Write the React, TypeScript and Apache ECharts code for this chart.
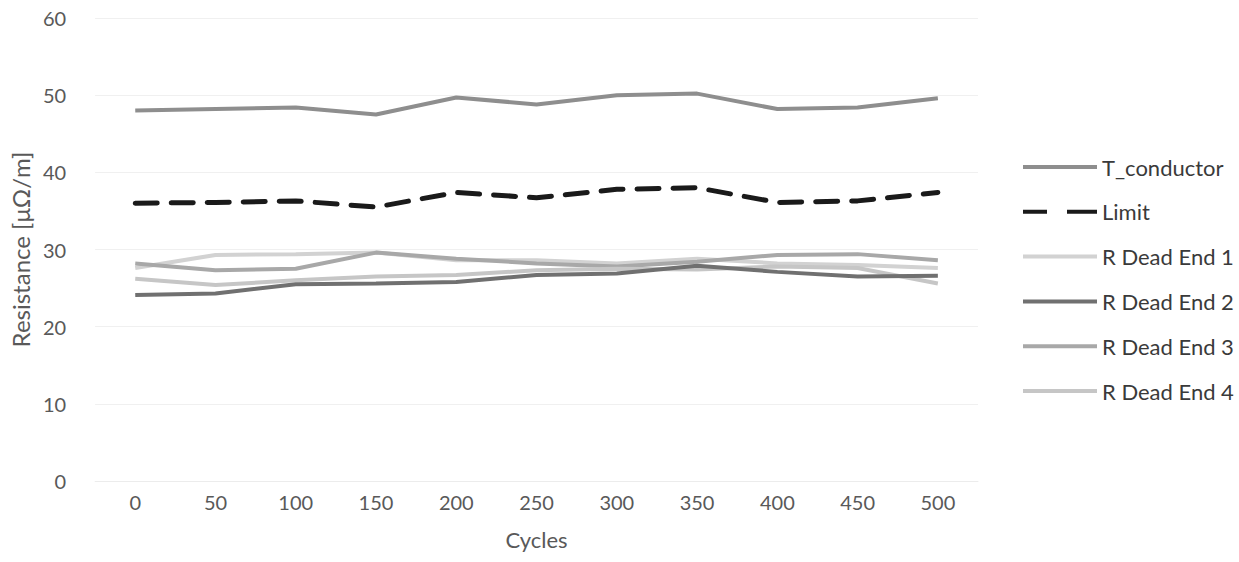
import React, { useEffect, useRef } from "react";
import * as echarts from "echarts";

const categories = ["0", "50", "100", "150", "200", "250", "300", "350", "400", "450", "500"];
const tConductor = [48.0, 48.2, 48.4, 47.5, 49.7, 48.8, 50.0, 50.2, 48.2, 48.4, 49.6];
const limit = [36.0, 36.1, 36.3, 35.5, 37.4, 36.7, 37.8, 38.0, 36.1, 36.3, 37.4];
const rDeadEnd1 = [27.6, 29.3, 29.4, 29.6, 28.6, 28.6, 28.2, 28.8, 28.2, 28.0, 27.6];
const rDeadEnd2 = [24.1, 24.3, 25.5, 25.6, 25.8, 26.7, 26.9, 27.9, 27.1, 26.5, 26.6];
const rDeadEnd3 = [28.2, 27.3, 27.5, 29.6, 28.8, 28.2, 27.8, 28.4, 29.3, 29.4, 28.6];
const rDeadEnd4 = [26.2, 25.4, 26.0, 26.5, 26.7, 27.3, 27.5, 27.4, 27.8, 27.6, 25.6];
const legendNames = ["T_conductor", "Limit", "R Dead End 1", "R Dead End 2", "R Dead End 3", "R Dead End 4"];

const FONT = "Lato";
const SOLID_ICON = "path://M0,0H74V4H0Z";
const DASH_ICON = "path://M0,0H24V4H0Z M44,0H74V4H44Z";

export default function App() {
  const ref = useRef<HTMLDivElement>(null);
  useEffect(() => {
    const chart = echarts.init(ref.current!, null, { renderer: "svg" });
    const mk = (name: string, data: number[], color: string, extra: any = {}, z = 2) => ({
      name,
      type: "line",
      data,
      showSymbol: false,
      symbol: "none",
      lineStyle: { color, width: 4, ...extra },
      itemStyle: { color },
      z,
    });
    chart.setOption({
      animation: false,
      grid: { left: 92, right: 261, top: 18, bottom: 81, containLabel: false },
      legend: {
        orient: "vertical",
        left: 1018,
        top: 151,
        itemWidth: 74,
        itemHeight: 4.5,
        itemGap: 22.8,
        textStyle: { fontFamily: FONT, fontSize: 22, color: "#3a3a3a" },
        data: legendNames.map((n) => ({ name: n, icon: n === "Limit" ? DASH_ICON : SOLID_ICON })),
      },
      xAxis: {
        type: "category",
        data: categories,
        boundaryGap: true,
        name: "Cycles",
        nameLocation: "middle",
        nameGap: 47,
        nameTextStyle: { fontFamily: FONT, fontSize: 22, color: "#595959" },
        axisLine: { show: true, lineStyle: { color: "#ececec", width: 1 } },
        axisTick: { show: false },
        axisLabel: { fontFamily: FONT, fontSize: 20, color: "#595959", margin: 11 },
      },
      yAxis: {
        type: "value",
        min: 0,
        max: 60,
        interval: 10,
        name: "Resistance [μΩ/m]",
        nameLocation: "middle",
        nameGap: 62,
        nameTextStyle: { fontFamily: FONT, fontSize: 24, color: "#595959" },
        axisLine: { show: false },
        axisTick: { show: false },
        axisLabel: { fontFamily: FONT, fontSize: 20, color: "#595959", margin: 29 },
        splitLine: { lineStyle: { color: "#f0f0f0", width: 1 } },
      },
      series: [
        mk("T_conductor", tConductor, "#8e8e8e"),
        mk("Limit", limit, "#1a1a1a", { type: [22, 14], width: 5, cap: "round" }),
        mk("R Dead End 1", rDeadEnd1, "#d2d2d2"),
        mk("R Dead End 2", rDeadEnd2, "#707070", {}, 3),
        mk("R Dead End 3", rDeadEnd3, "#a8a8a8"),
        mk("R Dead End 4", rDeadEnd4, "#c6c6c6"),
      ],
    });
    return () => chart.dispose();
  }, []);
  return (
    <div
      ref={ref}
      style={{ position: "fixed", left: 0, top: 0, width: 1239, height: 562, background: "#fff" }}
    />
  );
}
